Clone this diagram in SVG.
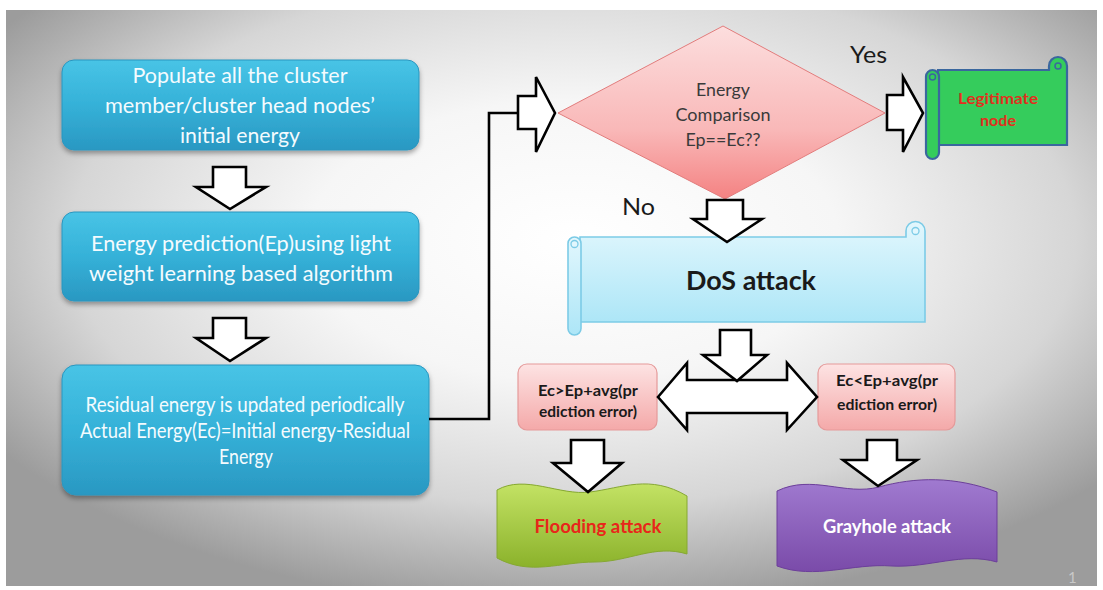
<svg xmlns="http://www.w3.org/2000/svg" width="1103" height="590" viewBox="0 0 1103 590">
<defs>
<radialGradient id="bg" cx="0.52" cy="0.4" r="0.64">
<stop offset="0" stop-color="#ffffff"/>
<stop offset="0.38" stop-color="#f6f6f6"/>
<stop offset="0.72" stop-color="#d6d6d6"/>
<stop offset="1" stop-color="#9c9c9c"/>
</radialGradient>
<linearGradient id="blue" x1="0" y1="0" x2="0" y2="1">
<stop offset="0" stop-color="#48c4e6"/>
<stop offset="0.5" stop-color="#35b1d8"/>
<stop offset="1" stop-color="#2a98c2"/>
</linearGradient>
<linearGradient id="pink" x1="0" y1="0" x2="0" y2="1">
<stop offset="0" stop-color="#fde3e3"/>
<stop offset="1" stop-color="#f4a9a9"/>
</linearGradient>
<linearGradient id="diam" x1="0" y1="0" x2="0" y2="1">
<stop offset="0" stop-color="#fcdede"/>
<stop offset="0.6" stop-color="#f9b8b8"/>
<stop offset="1" stop-color="#f48282"/>
</linearGradient>
<linearGradient id="sky" x1="0" y1="0" x2="0" y2="1">
<stop offset="0" stop-color="#e2f7fd"/>
<stop offset="1" stop-color="#ade6f7"/>
</linearGradient>
<linearGradient id="lime" x1="0" y1="0" x2="0" y2="1">
<stop offset="0" stop-color="#c3e264"/>
<stop offset="1" stop-color="#8bb22b"/>
</linearGradient>
<linearGradient id="violet" x1="0" y1="0" x2="0" y2="1">
<stop offset="0" stop-color="#a07ad0"/>
<stop offset="1" stop-color="#7a4ba9"/>
</linearGradient>
<filter id="sh" x="-10%" y="-10%" width="120%" height="130%">
<feDropShadow dx="0" dy="3" stdDeviation="2.5" flood-color="#000" flood-opacity="0.35"/>
</filter>
</defs>
<style>
.t{font-family:Lato,"Open Sans","Liberation Sans",sans-serif;}
.wt{fill:#f4fbfe;font-size:22px;text-anchor:middle;}
.arr{fill:#ffffff;stroke:#000;stroke-width:2.6;stroke-linejoin:miter;}
.con{fill:none;stroke:#000;stroke-width:2.6;}
.bbox{fill:url(#blue);stroke:#2b96bf;stroke-width:1;}
.pbox{fill:url(#pink);stroke:#e59a9a;stroke-width:1.2;}
.lab{fill:#1a1a1a;font-size:24px;}
.pk{fill:#1a1a1a;font-size:15px;font-weight:700;text-anchor:middle;}
</style>
<rect x="0" y="0" width="1103" height="590" fill="#ffffff"/>
<rect x="6" y="10" width="1091" height="576" fill="url(#bg)"/>
<text class="t" x="1068" y="583" font-size="15" fill="#c8c8c8">1</text>

<g id="box1">
<rect class="bbox" x="62" y="60" width="357" height="90" rx="12" filter="url(#sh)"/>
<text class="t wt" x="240" y="83" textLength="215" lengthAdjust="spacingAndGlyphs">Populate all the cluster</text>
<text class="t wt" x="240" y="113" textLength="270" lengthAdjust="spacingAndGlyphs">member/cluster head nodes’</text>
<text class="t wt" x="240" y="143" textLength="120" lengthAdjust="spacingAndGlyphs">initial energy</text>
</g>
<g id="box2">
<rect class="bbox" x="62" y="212" width="357" height="89" rx="12" filter="url(#sh)"/>
<text class="t wt" x="241" y="251" textLength="300" lengthAdjust="spacingAndGlyphs">Energy prediction(Ep)using light</text>
<text class="t wt" x="241" y="281" textLength="304" lengthAdjust="spacingAndGlyphs">weight learning based algorithm</text>
</g>
<g id="box3">
<rect class="bbox" x="62" y="365" width="367" height="130" rx="14" filter="url(#sh)"/>
<text class="t wt" x="245" y="412" font-size="19" textLength="319" lengthAdjust="spacingAndGlyphs">Residual  energy is updated periodically</text>
<text class="t wt" x="245" y="438" font-size="19" textLength="330" lengthAdjust="spacingAndGlyphs">Actual Energy(Ec)=Initial energy-Residual</text>
<text class="t wt" x="246" y="464" font-size="19" textLength="54" lengthAdjust="spacingAndGlyphs">Energy</text>
</g>

<g id="decision">
<polygon points="558,113 723,26 885,113 725,199" fill="url(#diam)" stroke="#e27c7c" stroke-width="1"/>
<text class="t" x="723" y="96" font-size="17" fill="#3a3a3a" text-anchor="middle" textLength="54" lengthAdjust="spacingAndGlyphs">Energy</text>
<text class="t" x="723" y="121" font-size="17" fill="#3a3a3a" text-anchor="middle" textLength="95" lengthAdjust="spacingAndGlyphs">Comparison</text>
<text class="t" x="723" y="146" font-size="17" fill="#3a3a3a" text-anchor="middle" textLength="75" lengthAdjust="spacingAndGlyphs">Ep==Ec??</text>
</g>
<text class="t lab" x="850" y="63" font-size="25" textLength="37" lengthAdjust="spacingAndGlyphs">Yes</text>
<text class="t lab" x="622" y="215" textLength="33" lengthAdjust="spacingAndGlyphs">No</text>

<g id="legit">
<path d="M1049,70 L1049,66 A9,9 0 0 1 1067,66 L1067,145 L938,145 L938,70 Z" fill="#35cc5c" stroke="#3a679e" stroke-width="2.2"/>
<circle cx="1058" cy="66" r="3" fill="#35cc5c" stroke="#3a679e" stroke-width="1.5"/>
<rect x="926" y="70" width="13" height="89" rx="6.5" fill="#35cc5c" stroke="#3a679e" stroke-width="2.2"/>
<circle cx="932.5" cy="77" r="3" fill="#35cc5c" stroke="#3a679e" stroke-width="1.5"/>
<text class="t" x="998" y="104" font-size="15" font-weight="700" fill="#e0301e" text-anchor="middle" textLength="80" lengthAdjust="spacingAndGlyphs">Legitimate</text>
<text class="t" x="998" y="126" font-size="15" font-weight="700" fill="#e0301e" text-anchor="middle" textLength="36" lengthAdjust="spacingAndGlyphs">node</text>
</g>

<g id="dos">
<path d="M906,237 L906,231 A9.5,9.5 0 0 1 925,231 L925,322 L580,322 L580,237 Z" fill="url(#sky)" stroke="#7ccbe6" stroke-width="1.6"/>
<circle cx="915.5" cy="231" r="3.5" fill="#e2f7fd" stroke="#7ccbe6" stroke-width="1.3"/>
<rect x="568" y="237" width="13" height="98" rx="6.5" fill="url(#sky)" stroke="#7ccbe6" stroke-width="1.6"/>
<circle cx="574.5" cy="244" r="3.5" fill="#e2f7fd" stroke="#7ccbe6" stroke-width="1.3"/>
<text class="t" x="751" y="290" font-size="26" font-weight="700" fill="#1a1a1a" text-anchor="middle" textLength="130" lengthAdjust="spacingAndGlyphs">DoS attack</text>
</g>

<g id="cond1">
<rect class="pbox" x="518" y="364" width="139" height="66" rx="9"/>
<text class="t pk" x="588" y="396" textLength="100" lengthAdjust="spacingAndGlyphs">Ec&gt;Ep+avg(pr</text>
<text class="t pk" x="588" y="417" textLength="98" lengthAdjust="spacingAndGlyphs">ediction error)</text>
</g>
<g id="cond2">
<rect class="pbox" x="818" y="364" width="137" height="66" rx="9"/>
<text class="t pk" x="887" y="386" textLength="102" lengthAdjust="spacingAndGlyphs">Ec&lt;Ep+avg(pr</text>
<text class="t pk" x="887" y="410" textLength="100" lengthAdjust="spacingAndGlyphs">ediction error)</text>
</g>

<g id="flooding">
<path d="M497,490 C525,474 560,496 590,492 C622,488 650,474 687,496 L687,554 C655,544 628,562 595,562 C560,562 530,576 497,558 Z" fill="url(#lime)" stroke="#86a832" stroke-width="1"/>
<text class="t" x="598" y="533" font-size="18" font-weight="700" fill="#e8261a" text-anchor="middle" textLength="127" lengthAdjust="spacingAndGlyphs">Flooding attack</text>
</g>
<g id="grayhole">
<path d="M777,491 C812,474 845,496 879,487 C915,477 955,476 997,492 L997,562 C962,552 930,568 892,566 C852,563 815,580 777,566 Z" fill="url(#violet)" stroke="#6c3f9a" stroke-width="1"/>
<text class="t" x="887" y="533" font-size="18" font-weight="700" fill="#ffffff" text-anchor="middle" textLength="128" lengthAdjust="spacingAndGlyphs">Grayhole attack</text>
</g>

<g id="connectors">
<polyline class="con" points="429,419 489,419 489,113 518,113"/>
<polygon class="arr" points="213,167 246,167 246,187 266,187 230,209 196,187 213,187"/>
<polygon class="arr" points="213,318 246,318 246,338 266,338 230,361 196,338 213,338"/>
<polygon class="arr" points="518,96 536,96 536,77 555,113 536,152 536,129 518,129"/>
<polygon class="arr" points="887,95 903,95 903,77 923,113 903,152 903,130 887,130"/>
<polygon class="arr" points="707,200 743,200 743,219 762,219 727,242 693,219 707,219"/>
<polygon class="arr" points="658,397 687,363 687,380 787,380 787,363 817,397 787,430 787,413 687,413 687,430"/>
<polygon class="arr" points="720,330 751,330 751,355 767,355 737,381 703,355 720,355"/>
<polygon class="arr" points="571,440 604,440 604,463 622,463 588,492 553,463 571,463"/>
<polygon class="arr" points="867,440 897,440 897,460 917,460 878,486 843,460 867,460"/>
</g>
</svg>
